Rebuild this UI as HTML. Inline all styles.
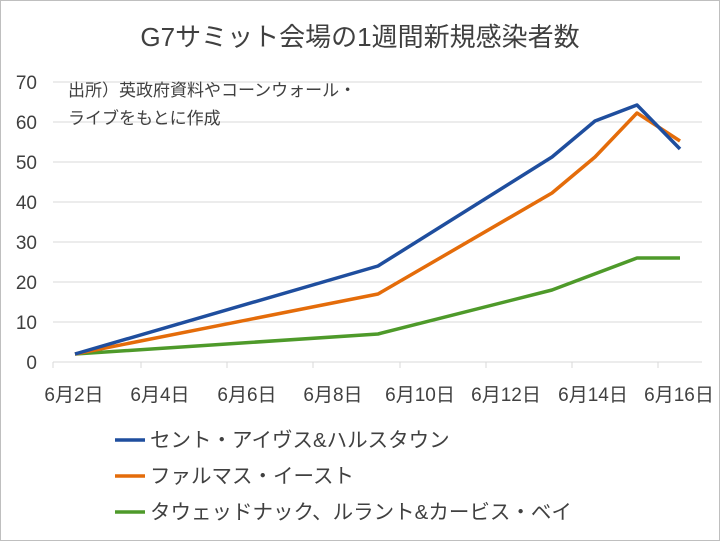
<!DOCTYPE html>
<html><head><meta charset="utf-8"><style>
body{margin:0;background:#fff}
svg{display:block}
text{font-family:"Liberation Sans","Noto Sans CJK JP",sans-serif;fill:#404040}
</style></head><body>
<svg width="720" height="541" viewBox="0 0 720 541">
<rect x="0.5" y="0.5" width="719" height="540" fill="#fff" stroke="#bfbfbf"/>
<text x="360" y="46" font-size="26" text-anchor="middle" fill="#333">G7サミット会場の1週間新規感染者数</text>
<g stroke="#d9d9d9" stroke-width="1">
<line x1="53" x2="702" y1="82" y2="82"/><line x1="53" x2="702" y1="122" y2="122"/>
<line x1="53" x2="702" y1="162" y2="162"/><line x1="53" x2="702" y1="202" y2="202"/>
<line x1="53" x2="702" y1="242" y2="242"/><line x1="53" x2="702" y1="282" y2="282"/>
<line x1="53" x2="702" y1="322" y2="322"/><line x1="53" x2="702" y1="362" y2="362"/>
<line x1="53" x2="53" y1="362" y2="368"/><line x1="141" x2="141" y1="362" y2="368"/>
<line x1="227" x2="227" y1="362" y2="368"/><line x1="313" x2="313" y1="362" y2="368"/>
<line x1="400" x2="400" y1="362" y2="368"/><line x1="486" x2="486" y1="362" y2="368"/>
<line x1="572" x2="572" y1="362" y2="368"/><line x1="658" x2="658" y1="362" y2="368"/>
</g>
<g font-size="19" text-anchor="end">
<text x="37" y="89">70</text><text x="37" y="129">60</text><text x="37" y="169">50</text>
<text x="37" y="209">40</text><text x="37" y="249">30</text><text x="37" y="289">20</text>
<text x="37" y="329">10</text><text x="37" y="369">0</text>
</g>
<g font-size="19" text-anchor="middle">
<text x="74" y="401">6月2日</text><text x="160" y="401">6月4日</text><text x="247" y="401">6月6日</text>
<text x="333" y="401">6月8日</text><text x="420" y="401">6月10日</text><text x="506" y="401">6月12日</text>
<text x="593" y="401">6月14日</text><text x="679" y="401">6月16日</text>
</g>
<text x="68" y="96" font-size="17" fill="#000">出所）英政府資料やコーンウォール・</text>
<text x="68" y="124" font-size="17" fill="#000">ライブをもとに作成</text>
<g fill="none" stroke-width="3.5" stroke-linejoin="round">
<polyline stroke="#4e9a2a" points="75,354 378,334 552,290 637,258 680,258"/>
<polyline stroke="#e46c0a" points="75,354 378,294 552,193 595,157 637,113 680,141"/>
<polyline stroke="#1f4e9e" points="75,354 378,266 552,157 595,121 637,105 680,149"/>
</g>
<g stroke-width="3.5">
<line x1="115" x2="145" y1="440" y2="440" stroke="#1f4e9e"/>
<line x1="115" x2="145" y1="476" y2="476" stroke="#e46c0a"/>
<line x1="115" x2="145" y1="512" y2="512" stroke="#4e9a2a"/>
</g>
<g font-size="20.5">
<text x="150" y="447">セント・アイヴス&amp;ハルスタウン</text>
<text x="150" y="483">ファルマス・イースト</text>
<text x="150" y="519">タウェッドナック、ルラント&amp;カービス・ベイ</text>
</g>
</svg>
</body></html>
